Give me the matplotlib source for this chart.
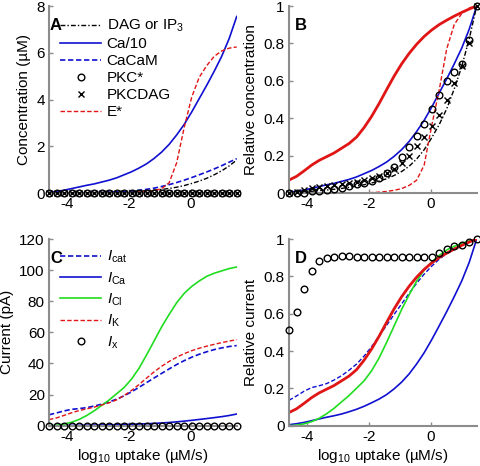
import matplotlib
matplotlib.use('Agg')
import matplotlib.pyplot as plt
import numpy as np

plt.rcParams['font.family'] = ['Liberation Sans', 'DejaVu Sans']
plt.rcParams['mathtext.fontset'] = 'custom'
plt.rcParams['mathtext.rm'] = 'Liberation Sans'
plt.rcParams['mathtext.it'] = 'Liberation Sans:italic'
plt.rcParams['mathtext.bf'] = 'Liberation Sans:bold'

# ---------------- data ----------------
log_uptake = [-4.6, -4.356, -4.112, -3.868, -3.624, -3.38, -3.136, -2.892, -2.648, -2.404,
              -2.16, -1.916, -1.672, -1.428, -1.184, -0.94, -0.696, -0.452, -0.208, 0.036,
              0.28, 0.524, 0.768, 1.012, 1.256, 1.5]

# Panel A (uM)
dag = [0.0, 0.005, 0.01, 0.015, 0.02, 0.025, 0.03, 0.037, 0.045, 0.055, 0.065, 0.078, 0.093,
       0.11, 0.135, 0.165, 0.205, 0.26, 0.33, 0.42, 0.52, 0.64, 0.79, 0.96, 1.17, 1.42]
ca_over_10 = [0.04, 0.08, 0.13, 0.2, 0.27, 0.34, 0.4, 0.48, 0.56, 0.66, 0.79, 0.92, 1.08, 1.26,
              1.49, 1.76, 2.09, 2.49, 2.94, 3.47, 4.04, 4.61, 5.21, 5.85, 6.61, 7.55]
cacam = [0.0, 0.0, 0.01, 0.01, 0.02, 0.02, 0.03, 0.04, 0.05, 0.06, 0.08, 0.1, 0.13, 0.17, 0.22,
         0.29, 0.37, 0.46, 0.56, 0.67, 0.79, 0.91, 1.04, 1.18, 1.33, 1.48]
pkc_star = [0.0] * 26
pkcdag = [0.0] * 26
e_star = [0.0, 0.0, 0.0, 0.0, 0.0, 0.0, 0.0, 0.0, 0.01, 0.01, 0.02, 0.03, 0.05, 0.07, 0.11,
          0.2, 0.45, 1.3, 2.8, 4.1, 4.95, 5.45, 5.85, 6.08, 6.2, 6.25]

# Panel B relative values
pkc_star_rel = [0.0, 0.0, 0.003, 0.01, 0.014, 0.018, 0.023, 0.03, 0.038, 0.047, 0.057, 0.068,
                0.082, 0.107, 0.143, 0.193, 0.245, 0.305, 0.37, 0.45, 0.525, 0.6, 0.65, 0.69,
                0.82, 1.0]
pkcdag_rel = [0.0, 0.005, 0.02, 0.03, 0.035, 0.04, 0.045, 0.05, 0.055, 0.062, 0.07, 0.08, 0.092,
              0.108, 0.13, 0.16, 0.2, 0.25, 0.3, 0.36, 0.42, 0.5, 0.59, 0.68, 0.8, 1.0]
e_star_rel = [0.0, 0.0, 0.0, 0.0, 0.0, 0.0, 0.0, 0.0, 0.0, 0.0, 0.002, 0.004, 0.006, 0.01,
              0.016, 0.025, 0.042, 0.07, 0.15, 0.36, 0.55, 0.77, 0.9, 0.96, 0.99, 1.0]

# Panel C (pA)
i_cat = [7.0, 8.2, 9.5, 10.5, 11.0, 11.6, 12.6, 13.8, 15.3, 17.0, 19.2, 21.8, 24.7, 27.7, 30.7,
         33.6, 36.5, 39.3, 41.8, 44.0, 45.9, 47.5, 48.9, 50.0, 50.9, 51.5]
i_ca = [0.04, 0.08, 0.13, 0.2, 0.27, 0.34, 0.4, 0.47, 0.56, 0.66, 0.78, 0.92, 1.07, 1.25, 1.48,
        1.75, 2.08, 2.48, 2.93, 3.45, 4.01, 4.58, 5.18, 5.81, 6.56, 7.5]
i_cl = [0.0, 0.3, 1.0, 2.2, 4.0, 6.5, 9.5, 13.0, 16.5, 20.5, 24.5, 30.0, 37.0, 45.5, 54.5, 63.5,
        71.5, 79.0, 85.0, 89.5, 93.0, 96.0, 98.0, 99.5, 101.0, 102.0]
i_k = [3.9, 5.0, 6.6, 8.3, 9.7, 10.8, 11.9, 13.3, 14.7, 16.6, 19.4, 22.7, 26.5, 30.6, 34.6, 38.2,
       41.3, 44.0, 46.3, 48.2, 49.8, 51.1, 52.3, 53.4, 54.4, 55.3]
i_x = [0.0] * 26
i_x_rel = [0.51, 0.61, 0.73, 0.83, 0.88, 0.9, 0.905, 0.91, 0.91, 0.905, 0.905, 0.905, 0.905,
           0.905, 0.905, 0.905, 0.905, 0.905, 0.905, 0.905, 0.925, 0.945, 0.96, 0.97, 0.985, 1.0]


def rel(v):
    v = np.asarray(v, dtype=float)
    return v / v.max()


# ---------------- style ----------------
BLUE = '#1010d0'
RED = '#e01515'
GREEN = '#20dd20'
GRAY = '#8c8c8c'
FS = 11
DASH = (0, (3.2, 1.6))
DASHDOT = (0, (3.5, 1.5, 1, 1.5))
MS_O = 4.8
MS_X = 3.8

W, H = 481, 466
fig = plt.figure(figsize=(W / 100, H / 100), dpi=100)


def make_ax(left_px, top_px, right_px, bottom_px):
    return fig.add_axes([left_px / W, 1 - bottom_px / H,
                         (right_px - left_px) / W, (bottom_px - top_px) / H])


axA = make_ax(49, 6, 236.7, 193.3)
axB = make_ax(289, 6, 476.7, 193.3)
axC = make_ax(49, 239, 236.7, 425.7)
axD = make_ax(289, 239, 476.7, 425.7)

for ax in (axA, axB, axC, axD):
    ax.set_xlim(-4.6, 1.5)
    ax.set_xticks([-4, -2, 0])
    ax.set_xticklabels(['-4', '-2', '0'])
    for s in ('top', 'right'):
        ax.spines[s].set_visible(False)
    for s in ('left', 'bottom'):
        ax.spines[s].set_color(GRAY)
        ax.spines[s].set_linewidth(1.5)
    ax.tick_params(direction='in', length=3, width=1, color=GRAY, labelsize=FS, pad=3)
    ax.patch.set_alpha(0)

mk = dict(clip_on=False, linestyle='none')

# ---------- A ----------
axA.plot(log_uptake, dag, color='black', lw=1.0, ls=DASHDOT, label='DAG or IP$_3$')
axA.plot(log_uptake, ca_over_10, color=BLUE, lw=1.2, label='Ca/10')
axA.plot(log_uptake, cacam, color=BLUE, lw=1.2, ls=DASH, label='CaCaM')
axA.plot(log_uptake, pkc_star, marker='o', ms=MS_O, mfc='none', mec='black', mew=1.0,
         label='PKC*', zorder=4, **mk)
axA.plot(log_uptake, pkcdag, marker='x', ms=MS_X, mec='black', mew=1.0,
         label='PKCDAG', zorder=5, **mk)
axA.plot(log_uptake, e_star, color=RED, lw=1.0, ls=DASH, label='E*')
axA.set_ylim(0, 8)
axA.set_yticks([0, 2, 4, 6, 8])
axA.set_ylabel('Concentration (\u00b5M)', fontsize=FS)
hA, lA = axA.get_legend_handles_labels()
fig.legend(hA, lA, loc='upper left', bbox_to_anchor=(60 / W, 1 - 18 / H),
           bbox_transform=fig.transFigure, frameon=False, fontsize=FS,
           borderpad=0, borderaxespad=0, handlelength=2.7, handletextpad=0.35,
           labelspacing=0.19, numpoints=1)

# ---------- B ----------
axB.plot(log_uptake, rel(i_k), color=RED, lw=2.0)
axB.plot(log_uptake, rel(ca_over_10), color=BLUE, lw=1.2)
axB.plot(log_uptake, rel(dag), color='black', lw=1.0, ls=DASHDOT)
axB.plot(log_uptake, e_star_rel, color=RED, lw=1.0, ls=DASH)
axB.plot(log_uptake, pkc_star_rel, marker='o', ms=MS_O, mfc='none', mec='black', mew=1.0,
         zorder=4, **mk)
axB.plot(log_uptake, pkcdag_rel, marker='x', ms=MS_X, mec='black', mew=1.0, zorder=5, **mk)
axB.set_ylim(0, 1)
axB.set_yticks([0, 0.2, 0.4, 0.6, 0.8, 1])
axB.set_yticklabels(['0', '0.2', '0.4', '0.6', '0.8', '1'])
axB.set_ylabel('Relative concentration', fontsize=FS)

# ---------- C ----------
axC.plot(log_uptake, i_cat, color=BLUE, lw=1.2, ls=DASH, label='$I_{\\mathrm{cat}}$')
axC.plot(log_uptake, i_ca, color=BLUE, lw=1.2, label='$I_{\\mathrm{Ca}}$')
axC.plot(log_uptake, i_cl, color=GREEN, lw=1.2, label='$I_{\\mathrm{Cl}}$')
axC.plot(log_uptake, i_k, color=RED, lw=1.0, ls=DASH, label='$I_{\\mathrm{K}}$')
axC.plot(log_uptake, i_x, marker='o', ms=MS_O, mfc='none', mec='black', mew=1.0,
         label='$I_{\\mathrm{x}}$', zorder=4, **mk)
axC.set_ylim(0, 120)
axC.set_yticks([0, 20, 40, 60, 80, 100, 120])
axC.set_ylabel('Current (pA)', fontsize=FS)
axC.set_xlabel('log$_{10}$ uptake (\u00b5M/s)', fontsize=FS, labelpad=2)
hC, lC = axC.get_legend_handles_labels()
fig.legend(hC, lC, loc='upper left', bbox_to_anchor=(60 / W, 1 - 249 / H),
           bbox_transform=fig.transFigure, frameon=False, fontsize=FS,
           borderpad=0, borderaxespad=0, handlelength=2.7, handletextpad=0.35,
           labelspacing=0.32, numpoints=1)

# ---------- D ----------
axD.plot(log_uptake, rel(i_cat), color=BLUE, lw=1.0, ls=DASH)
axD.plot(log_uptake, rel(i_ca), color=BLUE, lw=1.2)
axD.plot(log_uptake, rel(i_cl), color=GREEN, lw=1.2)
axD.plot(log_uptake, rel(i_k), color=RED, lw=2.0)
axD.plot(log_uptake, i_x_rel, marker='o', ms=MS_O, mfc='none', mec='black', mew=1.0,
         zorder=4, **mk)
axD.set_ylim(0, 1)
axD.set_yticks([0, 0.2, 0.4, 0.6, 0.8, 1])
axD.set_yticklabels(['0', '0.2', '0.4', '0.6', '0.8', '1'])
axD.set_ylabel('Relative current', fontsize=FS)
axD.set_xlabel('log$_{10}$ uptake (\u00b5M/s)', fontsize=FS, labelpad=2)

# panel letters
for ax, letter, xf in ((axA, 'A', 0.005), (axB, 'B', 0.032), (axC, 'C', 0.005), (axD, 'D', 0.032)):
    ax.text(xf, 0.935, letter, transform=ax.transAxes, fontsize=FS + 1, fontweight='bold',
            va='top', ha='left')

fig.savefig('out.png', dpi=100)
